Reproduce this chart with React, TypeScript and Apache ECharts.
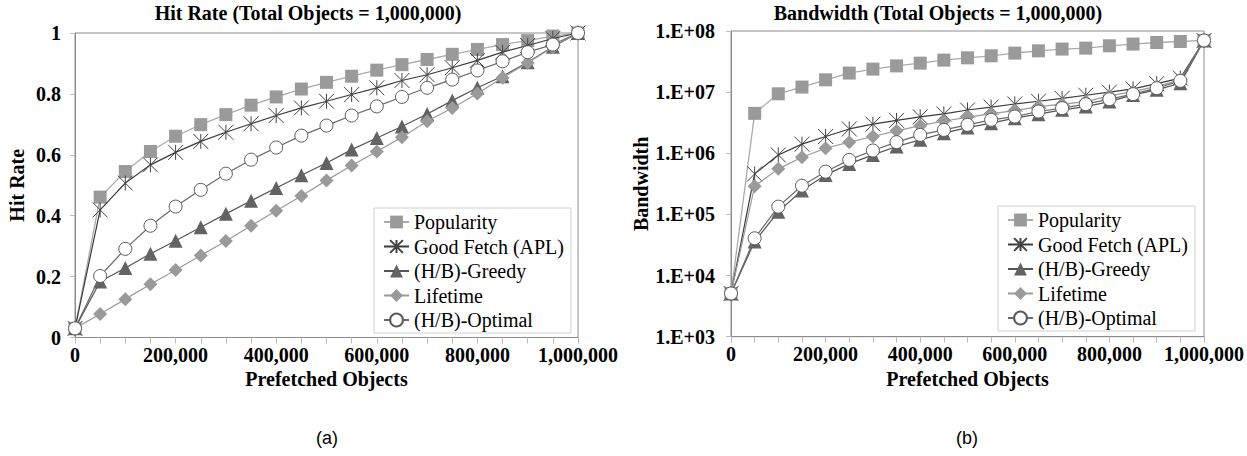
import React, { useEffect, useRef } from "react";
import * as echarts from "echarts";

const prefetched = [0, 50000, 100000, 150000, 200000, 250000, 300000, 350000, 400000, 450000, 500000, 550000, 600000, 650000, 700000, 750000, 800000, 850000, 900000, 950000, 1000000];

const seriesNames = ["Popularity", "Good Fetch (APL)", "(H/B)-Greedy", "Lifetime", "(H/B)-Optimal"];

const popHit = [0.03, 0.461, 0.545, 0.611, 0.661, 0.699, 0.732, 0.763, 0.79, 0.816, 0.838, 0.858, 0.878, 0.896, 0.913, 0.93, 0.946, 0.962, 0.975, 0.99, 1.0];
const gfHit = [0.03, 0.419, 0.507, 0.567, 0.608, 0.644, 0.674, 0.702, 0.729, 0.754, 0.776, 0.798, 0.82, 0.844, 0.863, 0.886, 0.91, 0.937, 0.959, 0.982, 1.0];
const greedyHit = [0.03, 0.184, 0.228, 0.275, 0.318, 0.362, 0.406, 0.449, 0.491, 0.533, 0.573, 0.617, 0.655, 0.693, 0.734, 0.778, 0.82, 0.858, 0.904, 0.955, 1.0];
const lifeHit = [0.03, 0.077, 0.126, 0.175, 0.222, 0.269, 0.317, 0.367, 0.416, 0.465, 0.516, 0.565, 0.611, 0.658, 0.71, 0.754, 0.801, 0.853, 0.902, 0.953, 1.0];
const optHit = [0.03, 0.202, 0.291, 0.367, 0.43, 0.485, 0.538, 0.584, 0.624, 0.663, 0.696, 0.729, 0.759, 0.79, 0.82, 0.847, 0.877, 0.907, 0.937, 0.962, 1.0];

const popBw = [5.1e3, 4.5e6, 9.4e6, 1.21e7, 1.59e7, 2.05e7, 2.38e7, 2.69e7, 2.98e7, 3.34e7, 3.64e7, 3.93e7, 4.35e7, 4.74e7, 5.06e7, 5.25e7, 5.73e7, 6.11e7, 6.49e7, 6.74e7, 7.0e7];
const gfBw = [5.1e3, 4.6e5, 9.4e5, 1.41e6, 1.88e6, 2.5e6, 3.0e6, 3.45e6, 3.95e6, 4.4e6, 5.1e6, 5.7e6, 6.4e6, 7.1e6, 7.9e6, 8.9e6, 1.0e7, 1.13e7, 1.38e7, 1.7e7, 7.0e7];
const greedyBw = [5.1e3, 3.6e4, 1.11e5, 2.46e5, 4.43e5, 6.7e5, 9.4e5, 1.29e6, 1.66e6, 2.13e6, 2.63e6, 3.11e6, 3.75e6, 4.36e6, 5.13e6, 5.81e6, 7.01e6, 9.0e6, 1.09e7, 1.4e7, 7.0e7];
const lifeBw = [5.1e3, 2.9e5, 5.56e5, 8.6e5, 1.21e6, 1.52e6, 1.88e6, 2.33e6, 2.83e6, 3.37e6, 3.87e6, 4.45e6, 4.98e6, 5.81e6, 6.35e6, 7.01e6, 8.7e6, 1.02e7, 1.24e7, 1.59e7, 7.0e7];
const optBw = [5.1e3, 4.07e4, 1.34e5, 2.95e5, 5.0e5, 7.8e5, 1.11e6, 1.52e6, 2.0e6, 2.41e6, 2.92e6, 3.52e6, 3.99e6, 4.82e6, 5.47e6, 6.35e6, 7.67e6, 9.27e6, 1.16e7, 1.53e7, 7.0e7];

const titles = ["Hit Rate (Total Objects = 1,000,000)", "Bandwidth (Total Objects = 1,000,000)"];
const panelLabels = ["(a)", "(b)"];

const SERIF = "Liberation Serif";
const SANS = "Liberation Sans";
const AXIS_GREY = "#8c8c8c";

const STAR = "path://M0,0L10,10M0,10L10,0M5,0L5,10";

const styles = [
  { symbol: "rect", size: 13, item: { color: "#9a9a9a", borderColor: "#9a9a9a", borderWidth: 0 }, line: { color: "#ababab", width: 1.3 } },
  { symbol: STAR, size: 15, item: { color: "#444444", borderColor: "#444444", borderWidth: 1 }, line: { color: "#3a3a3a", width: 1.2 } },
  { symbol: "triangle", size: 14, item: { color: "#636363", borderColor: "#636363", borderWidth: 0 }, line: { color: "#555555", width: 1.2 } },
  { symbol: "diamond", size: 14, item: { color: "#9a9a9a", borderColor: "#9a9a9a", borderWidth: 0 }, line: { color: "#9a9a9a", width: 1.2 } },
  { symbol: "circle", size: 13, item: { color: "#ffffff", borderColor: "#5a5a5a", borderWidth: 1 }, line: { color: "#6a6a6a", width: 1.2 } },
];

function makeSeries(values: number[][], axisIndex: number) {
  return values.map((vals, i) => ({
    type: "line",
    name: seriesNames[i],
    xAxisIndex: axisIndex,
    yAxisIndex: axisIndex,
    data: prefetched.map((x, k) => [x, vals[k]]),
    symbol: styles[i].symbol,
    symbolSize: styles[i].size,
    symbolKeepAspect: true,
    itemStyle: styles[i].item,
    lineStyle: styles[i].line,
    z: 2 + i,
  }));
}

function xAxisFor(gridIndex: number) {
  return {
    type: "value",
    gridIndex,
    min: 0,
    max: 1000000,
    interval: 50000,
    name: "Prefetched Objects",
    nameLocation: "middle",
    nameGap: 23,
    nameTextStyle: { fontFamily: SERIF, fontWeight: "bold", fontSize: 20, color: "#000" },
    axisLine: { show: true, lineStyle: { color: AXIS_GREY, width: 1 } },
    axisTick: { show: true, length: 6, lineStyle: { color: "#bbbbbb" } },
    splitLine: { show: false },
    axisLabel: {
      margin: 7,
      fontFamily: SERIF,
      fontWeight: "bold",
      fontSize: 20,
      color: "#000",
      formatter: (v: number) => (v % 200000 === 0 ? v.toLocaleString("en-US") : ""),
    },
  };
}

export default function App() {
  const ref = useRef<HTMLDivElement>(null);

  useEffect(() => {
    if (!ref.current) return;
    const chart = echarts.init(ref.current, undefined, { renderer: "svg" });
    const legendBase = {
      orient: "vertical",
      data: seriesNames,
      itemWidth: 25,
      itemHeight: 16,
      itemGap: 4.5,
      borderColor: "#d0d0d0",
      borderWidth: 1,
      backgroundColor: "#fff",
      selectedMode: false,
      textStyle: { fontFamily: SERIF, fontSize: 20, lineHeight: 20, color: "#000" },
    };
    chart.setOption({
      animation: false,
      backgroundColor: "#ffffff",
      textStyle: { fontFamily: SERIF },
      title: [
        {
          text: titles[0],
          left: 308,
          top: 3,
          textAlign: "center",
          padding: 0,
          textStyle: { fontFamily: SERIF, fontWeight: "bold", fontSize: 20, color: "#000" },
        },
        {
          text: titles[1],
          left: 938,
          top: 3,
          textAlign: "center",
          padding: 0,
          textStyle: { fontFamily: SERIF, fontWeight: "bold", fontSize: 20, color: "#000" },
        },
        {
          text: panelLabels[0],
          left: 327,
          top: 429,
          textAlign: "center",
          padding: 0,
          textStyle: { fontFamily: SANS, fontWeight: "normal", fontSize: 18, color: "#000" },
        },
        {
          text: panelLabels[1],
          left: 967,
          top: 429,
          textAlign: "center",
          padding: 0,
          textStyle: { fontFamily: SANS, fontWeight: "normal", fontSize: 18, color: "#000" },
        },
      ],
      legend: [
        { ...legendBase, left: 374, top: 208, padding: [4, 7, 3, 9] },
        { ...legendBase, left: 998, top: 206, padding: [4, 7, 3, 9] },
      ],
      grid: [
        { left: 75, top: 33, width: 503, height: 304.5, show: true, borderColor: AXIS_GREY, borderWidth: 1, backgroundColor: "transparent" },
        { left: 731, top: 31, width: 473, height: 305.7, show: true, borderColor: AXIS_GREY, borderWidth: 1, backgroundColor: "transparent" },
      ],
      xAxis: [xAxisFor(0), xAxisFor(1)],
      yAxis: [
        {
          type: "value",
          gridIndex: 0,
          min: 0,
          max: 1,
          interval: 0.2,
          name: "Hit Rate",
          nameLocation: "middle",
          nameRotate: 90,
          nameGap: 48,
          nameTextStyle: { fontFamily: SERIF, fontWeight: "bold", fontSize: 20, color: "#000" },
          axisLine: { show: true, lineStyle: { color: AXIS_GREY, width: 1 } },
          axisTick: { show: true, length: 5, lineStyle: { color: "#bbbbbb" } },
          splitLine: { show: false },
          axisLabel: { margin: 14, fontFamily: SERIF, fontWeight: "bold", fontSize: 20, color: "#000" },
        },
        {
          type: "log",
          logBase: 10,
          gridIndex: 1,
          min: 1000,
          max: 100000000,
          splitNumber: 5,
          name: "Bandwidth",
          nameLocation: "middle",
          nameRotate: 90,
          nameGap: 76,
          nameTextStyle: { fontFamily: SERIF, fontWeight: "bold", fontSize: 20, color: "#000" },
          axisLine: { show: true, lineStyle: { color: AXIS_GREY, width: 1 } },
          axisTick: { show: true, length: 5, lineStyle: { color: "#bbbbbb" } },
          splitLine: { show: false },
          axisLabel: {
            margin: 16,
            fontFamily: SERIF,
            fontWeight: "bold",
            fontSize: 20,
            color: "#000",
            formatter: (v: number) => "1.E+" + String(Math.round(Math.log10(v))).padStart(2, "0"),
          },
        },
      ],
      series: [
        ...makeSeries([popHit, gfHit, greedyHit, lifeHit, optHit], 0),
        ...makeSeries([popBw, gfBw, greedyBw, lifeBw, optBw], 1),
      ],
    });
    return () => chart.dispose();
  }, []);

  return (
    <div
      ref={ref}
      style={{ position: "fixed", left: 0, top: 0, width: 1247, height: 456, background: "#fff" }}
    />
  );
}
